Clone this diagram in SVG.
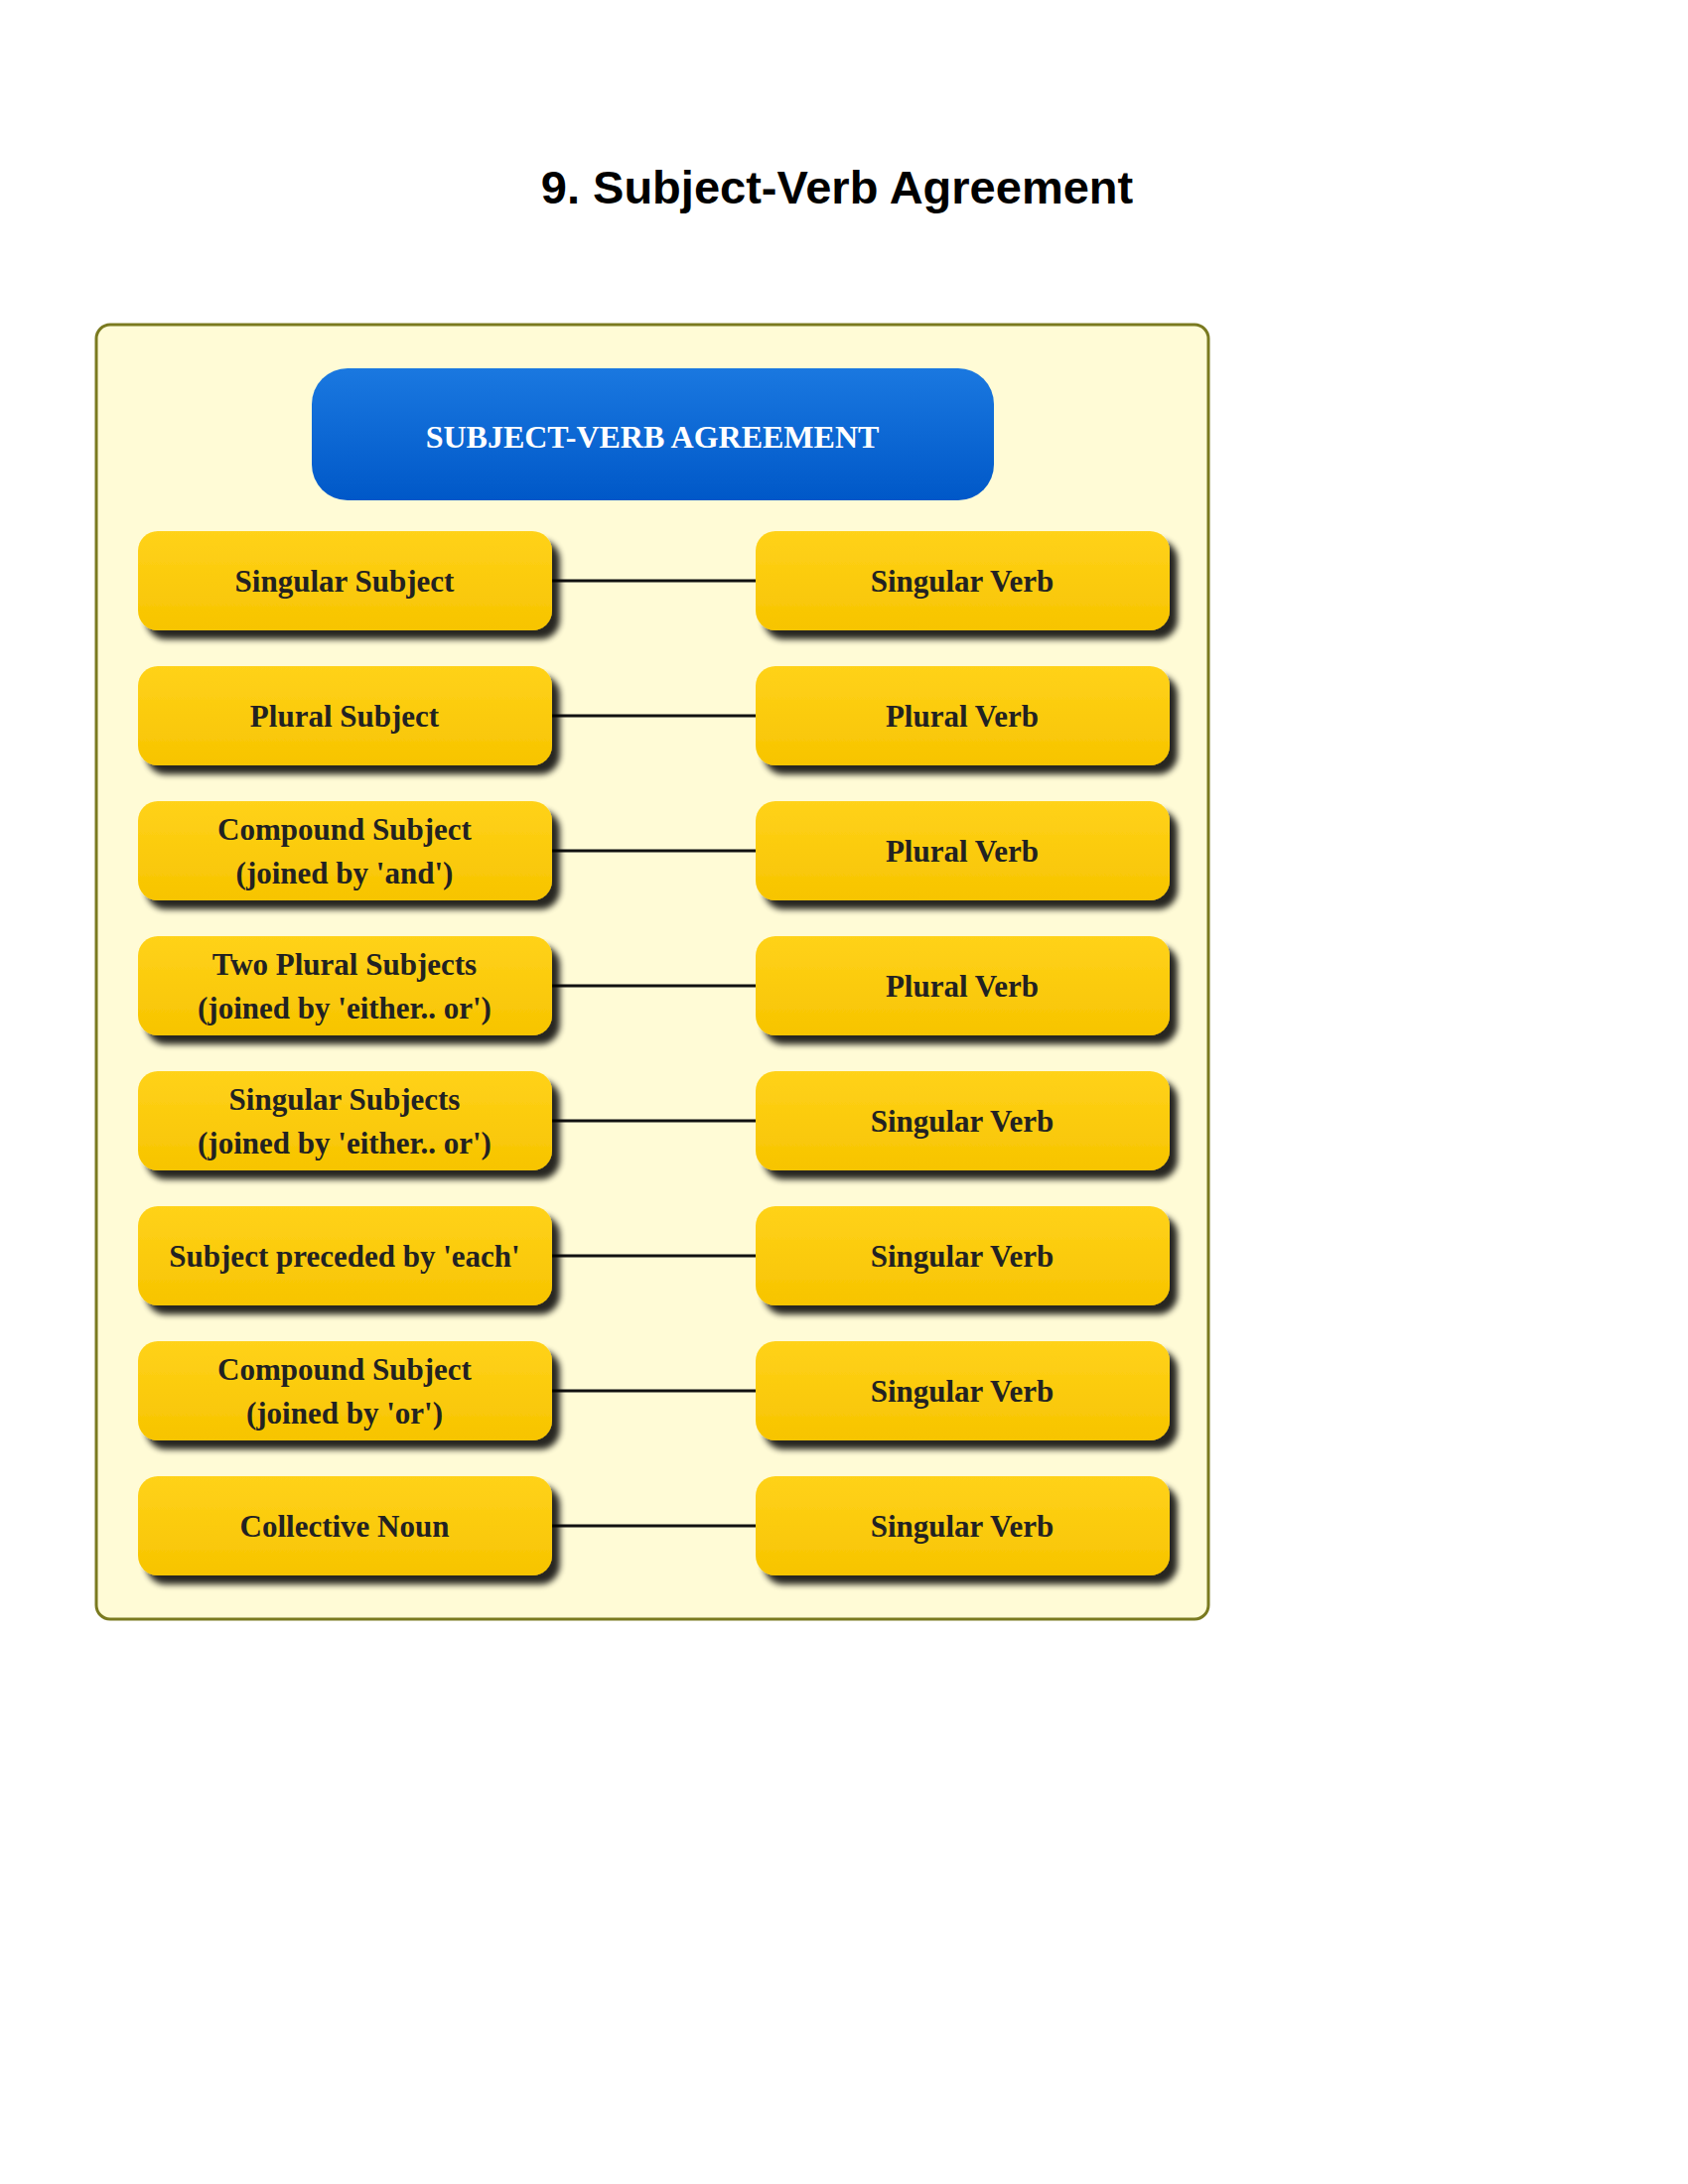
<svg xmlns="http://www.w3.org/2000/svg" width="1700" height="2200" viewBox="0 0 1700 2200">
<defs>
<linearGradient id="yg" x1="0" y1="0" x2="0" y2="1"><stop offset="0" stop-color="#ffd21a"/><stop offset="1" stop-color="#f7c400"/></linearGradient>
<linearGradient id="bg" x1="0" y1="0" x2="0" y2="1"><stop offset="0" stop-color="#1a78e0"/><stop offset="1" stop-color="#0058c8"/></linearGradient>
<filter id="sh" x="-10%" y="-10%" width="130%" height="140%"><feGaussianBlur in="SourceAlpha" stdDeviation="3"/><feOffset dx="8" dy="9"/><feComponentTransfer><feFuncA type="linear" slope="0.85"/></feComponentTransfer><feMerge><feMergeNode/><feMergeNode in="SourceGraphic"/></feMerge></filter>
</defs>
<style>
.n{fill:url(#yg);filter:url(#sh)}
.t{font-family:"Liberation Serif",serif;font-weight:bold;font-size:31px;fill:#222;text-anchor:middle}
.c{stroke:#111;stroke-width:3}
</style>
<rect width="1700" height="2200" fill="#fff"/>
<text x="843" y="205" font-family="Liberation Sans, Arial, sans-serif" font-weight="bold" font-size="47" text-anchor="middle" fill="#000">9. Subject-Verb Agreement</text>
<rect x="97" y="327" width="1120" height="1304" rx="14" fill="#fffbd6" stroke="#7a7a20" stroke-width="3"/>
<g id="root"><rect x="314" y="371" width="687" height="133" rx="36" fill="url(#bg)"/><text x="657" y="451" font-family="Liberation Serif,serif" font-weight="bold" font-size="32" fill="#fff" text-anchor="middle">SUBJECT-VERB AGREEMENT</text></g>
<g id="connectors">
<line class="c" x1="556" y1="585" x2="761" y2="585"/>
<line class="c" x1="556" y1="721" x2="761" y2="721"/>
<line class="c" x1="556" y1="857" x2="761" y2="857"/>
<line class="c" x1="556" y1="993" x2="761" y2="993"/>
<line class="c" x1="556" y1="1129" x2="761" y2="1129"/>
<line class="c" x1="556" y1="1265" x2="761" y2="1265"/>
<line class="c" x1="556" y1="1401" x2="761" y2="1401"/>
<line class="c" x1="556" y1="1537" x2="761" y2="1537"/>
</g>
<g id="l1"><rect class="n" x="139" y="535" width="417" height="100" rx="20"/><text class="t" x="347" y="596">Singular Subject</text></g>
<g id="r1"><rect class="n" x="761" y="535" width="417" height="100" rx="20"/><text class="t" x="969" y="596">Singular Verb</text></g>
<g id="l2"><rect class="n" x="139" y="671" width="417" height="100" rx="20"/><text class="t" x="347" y="732">Plural Subject</text></g>
<g id="r2"><rect class="n" x="761" y="671" width="417" height="100" rx="20"/><text class="t" x="969" y="732">Plural Verb</text></g>
<g id="l3"><rect class="n" x="139" y="807" width="417" height="100" rx="20"/><text class="t" x="347" y="846">Compound Subject</text><text class="t" x="347" y="890">(joined by 'and')</text></g>
<g id="r3"><rect class="n" x="761" y="807" width="417" height="100" rx="20"/><text class="t" x="969" y="868">Plural Verb</text></g>
<g id="l4"><rect class="n" x="139" y="943" width="417" height="100" rx="20"/><text class="t" x="347" y="982">Two Plural Subjects</text><text class="t" x="347" y="1026">(joined by 'either.. or')</text></g>
<g id="r4"><rect class="n" x="761" y="943" width="417" height="100" rx="20"/><text class="t" x="969" y="1004">Plural Verb</text></g>
<g id="l5"><rect class="n" x="139" y="1079" width="417" height="100" rx="20"/><text class="t" x="347" y="1118">Singular Subjects</text><text class="t" x="347" y="1162">(joined by 'either.. or')</text></g>
<g id="r5"><rect class="n" x="761" y="1079" width="417" height="100" rx="20"/><text class="t" x="969" y="1140">Singular Verb</text></g>
<g id="l6"><rect class="n" x="139" y="1215" width="417" height="100" rx="20"/><text class="t" x="347" y="1276">Subject preceded by 'each'</text></g>
<g id="r6"><rect class="n" x="761" y="1215" width="417" height="100" rx="20"/><text class="t" x="969" y="1276">Singular Verb</text></g>
<g id="l7"><rect class="n" x="139" y="1351" width="417" height="100" rx="20"/><text class="t" x="347" y="1390">Compound Subject</text><text class="t" x="347" y="1434">(joined by 'or')</text></g>
<g id="r7"><rect class="n" x="761" y="1351" width="417" height="100" rx="20"/><text class="t" x="969" y="1412">Singular Verb</text></g>
<g id="l8"><rect class="n" x="139" y="1487" width="417" height="100" rx="20"/><text class="t" x="347" y="1548">Collective Noun</text></g>
<g id="r8"><rect class="n" x="761" y="1487" width="417" height="100" rx="20"/><text class="t" x="969" y="1548">Singular Verb</text></g>
</svg>
